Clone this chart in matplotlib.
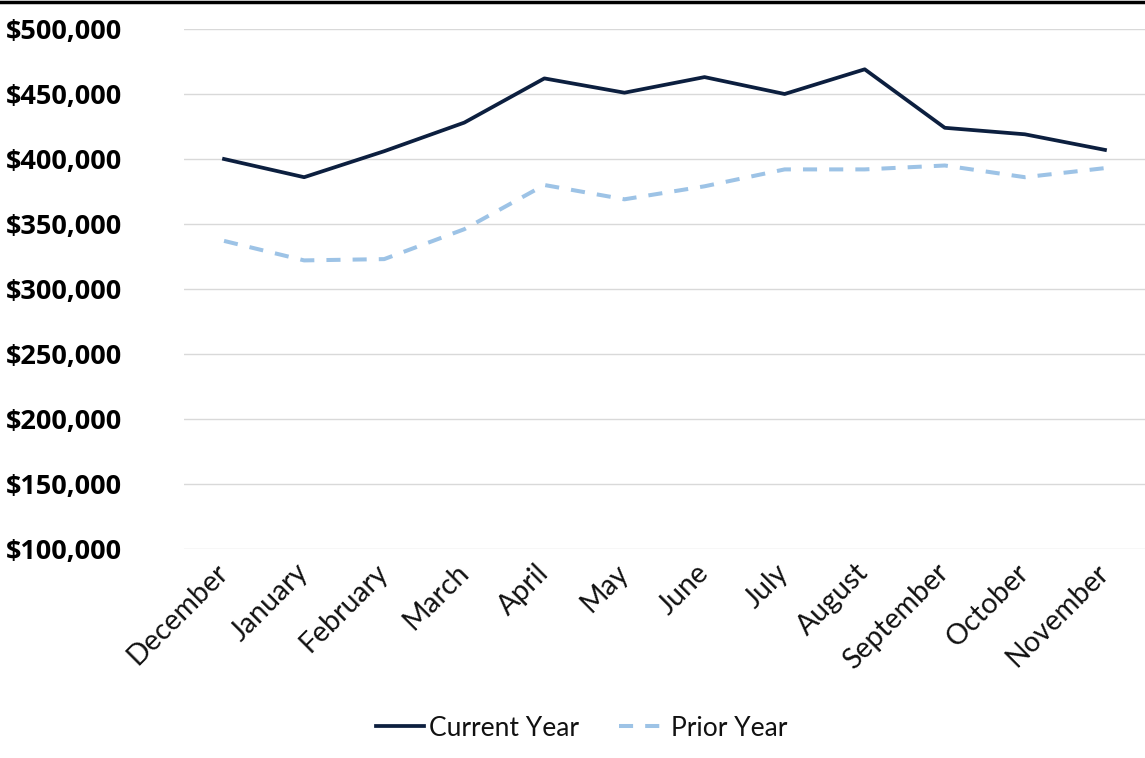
import matplotlib.pyplot as plt
from matplotlib.lines import Line2D
from matplotlib.ticker import FuncFormatter

months = ['December', 'January', 'February', 'March', 'April', 'May',
          'June', 'July', 'August', 'September', 'October', 'November']
current_year = [400000, 386000, 406000, 428000, 462000, 451000,
                463000, 450000, 469000, 424000, 419000, 407000]
prior_year = [337000, 322000, 323000, 346000, 380000, 369000,
              379000, 392000, 392000, 395000, 386000, 393000]
y_ticks = [100000, 150000, 200000, 250000, 300000, 350000, 400000, 450000, 500000]

fig = plt.figure(figsize=(11.45, 7.58), dpi=100)
ax = fig.add_axes([184 / 1145, 1 - 549 / 758, 1 - 184 / 1145, (549 - 29) / 758])

x = range(len(months))
ax.plot(x, current_year, color='#0c1f3f', lw=2.7, label='Current Year', zorder=3)
ax.plot(x, prior_year, color='#9dc3e6', lw=2.9, ls=(0, (3.5, 3)), label='Prior Year', zorder=3)

ax.set_xlim(-0.5, len(months) - 0.5)
ax.set_ylim(100000, 500000)
ax.set_yticks(y_ticks)
ax.yaxis.set_major_formatter(FuncFormatter(lambda v, p: f'${v:,.0f}'))
ax.grid(axis='y', color='#d9d9d9', lw=1)
ax.set_axisbelow(True)
for s in ax.spines.values():
    s.set_visible(False)
ax.tick_params(length=0)

ax.set_xticks(list(x))
ax.set_xticklabels(months, rotation=45, ha='right', va='center', rotation_mode='anchor',
                   fontsize=20.5, family='Lato', color='#111111')
for lbl in ax.get_yticklabels():
    lbl.set_fontsize(19.5)
    lbl.set_fontweight('bold')
    lbl.set_family('Open Sans')
    lbl.set_ha('left')
    lbl.set_x(-184 / 961 + 6 / 961)
ax.tick_params(axis='y', pad=0)
ax.tick_params(axis='x', pad=14)

leg = fig.legend(loc='center', bbox_to_anchor=(582 / 1145, 1 - 728 / 758), ncol=2,
                 frameon=False, prop={'family': 'Lato', 'size': 19},
                 handlelength=1.8, handletextpad=0.2, columnspacing=1.5)
for t in leg.get_texts():
    t.set_color('#111111')

fig.add_artist(Line2D([0, 1], [0.998, 0.998], color='black', lw=2.5,
                      transform=fig.transFigure))

fig.savefig('out.png', dpi=100)
